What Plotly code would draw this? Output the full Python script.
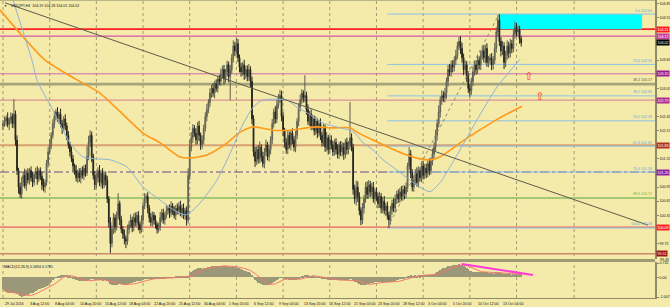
import numpy as np
import pandas as pd
import plotly.graph_objects as go

# ---------------- data (USDJPY H4) ----------------
first_open = 102.25
close = [
 102.30,
 102.35, 102.42, 102.28, 102.38, 102.45, 102.30,
 102.50, 101.95, 101.30, 100.95, 100.80, 101.05,
 101.20, 100.98, 101.25, 101.10, 101.30, 101.15,
 101.05, 101.22, 101.28, 101.12, 101.30, 101.18,
 101.00, 100.95, 101.05, 101.45, 101.70, 101.85,
 102.05, 102.30, 102.45, 102.55, 102.40, 102.50,
 102.30, 102.20, 102.40, 102.25, 102.05, 101.85,
 101.70, 101.55, 101.40, 101.30, 101.15, 101.25,
 101.15, 101.30, 101.20, 101.35, 101.25, 101.60,
 101.90, 102.05, 101.60, 101.20, 101.00, 101.15,
 101.30, 101.05, 101.25, 101.00, 101.20, 101.10,
 100.70, 100.20, 99.75, 100.05, 100.30, 100.10,
 100.35, 100.60, 100.25, 100.05, 99.95, 99.85,
 99.80, 100.05, 100.15, 100.25, 100.10, 100.30,
 100.20, 100.35, 100.15, 100.05, 100.25, 100.55,
 100.70, 100.75, 100.50, 100.30, 100.20, 100.35,
 100.25, 100.15, 100.05, 100.10, 100.30, 100.40,
 100.25, 100.35, 100.45, 100.50, 100.40, 100.55,
 100.45, 100.35, 100.50, 100.45, 100.55, 100.40,
 100.50, 100.35, 100.45, 100.25, 101.20, 101.80,
 102.00, 102.20, 102.10, 101.95, 102.25, 102.05,
 101.85, 101.95, 102.20, 102.45, 102.60, 102.75,
 102.95, 103.05, 102.95, 103.15, 103.05, 103.25,
 103.20, 103.35, 103.45, 103.25, 103.40, 103.55,
 103.30, 103.45, 103.70, 103.95, 103.85, 104.00,
 103.70, 103.50, 103.40, 103.55, 103.35, 103.45,
 103.30, 103.45, 103.20, 102.40, 101.70, 101.50,
 101.75, 101.55, 101.80, 101.60, 101.45, 101.70,
 101.85, 101.60, 101.75, 101.95, 102.30, 102.55,
 102.40, 102.70, 102.85, 102.90, 102.45, 102.15,
 101.90, 101.75, 102.05, 101.85, 102.10, 101.95,
 101.80, 102.05, 102.35, 102.65, 102.80, 102.95,
 102.85, 102.90, 102.60, 102.35, 102.50, 102.25,
 102.40, 102.15, 102.35, 102.10, 102.30, 102.05,
 101.90, 102.20, 101.80, 102.00, 101.75, 101.95,
 101.85, 101.70, 101.90, 101.75, 101.65, 101.85,
 101.70, 101.80, 101.65, 101.90, 101.75, 101.85,
 102.00, 101.80, 100.90, 100.70, 100.95, 100.75,
 100.45, 100.25, 100.50, 100.70, 100.95, 100.80,
 101.00, 100.85, 100.95, 100.70, 100.85, 100.75,
 100.60, 100.75, 100.50, 100.65, 100.45, 100.55,
 100.35, 100.25, 100.45, 100.60, 100.50, 100.70,
 100.80, 100.70, 100.85, 100.75, 100.90, 100.80,
 100.95, 101.40, 101.65, 101.25, 100.95, 101.10,
 101.25, 101.05, 101.30, 101.15, 101.40, 101.20,
 101.35, 101.25, 101.45, 101.30, 101.50, 101.65,
 101.80, 102.05, 102.30, 102.55, 102.80, 102.90,
 102.85, 102.95, 103.20, 103.45, 103.40, 103.55,
 103.50, 103.65, 103.75, 103.95, 104.05, 103.90,
 103.70, 103.45, 103.55, 103.30, 103.05, 103.00,
 103.20, 103.40, 103.55, 103.45, 103.65, 103.55,
 103.75, 103.85, 103.70, 103.90, 103.60, 103.65,
 103.70, 103.55, 103.65, 103.90, 104.25, 104.50,
 104.05, 103.85, 103.95, 103.60, 103.75, 103.95,
 103.80, 104.00, 103.90, 104.20, 104.35, 104.25,
 104.30, 104.10, 104.02,
]
# upper / lower wick lengths beyond the body, in hundredths of a yen
up_wick = [
 8,
 10, 6, 12, 5, 9, 7,   32, 8, 10, 6, 9, 12,   7, 14, 6, 10, 5, 9,
 12, 6, 8, 11, 5, 7,   9, 13, 6, 8, 10, 12,   7, 9, 11, 6, 10, 5,
 12, 8, 6, 10, 7, 9,   6, 11, 8, 5, 12, 7,   10, 6, 9, 7, 8, 22,
 14, 11, 8, 6, 9, 10,   7, 12, 6, 10, 5, 8,   9, 6, 11, 8, 10, 7,
 8, 22, 6, 9, 7, 10,   6, 10, 8, 12, 7, 9,   11, 7, 9, 6, 10, 8,
 12, 6, 9, 7, 10, 8,   7, 10, 6, 9, 12, 8,   9, 7, 11, 6, 8, 10,
 6, 9, 7, 10, 8, 11,   8, 10, 6, 9, 15, 15,   12, 9, 7, 10, 8, 11,
 6, 10, 8, 9, 12, 7,   10, 8, 11, 6, 9, 7,   9, 12, 8, 10, 6, 9,
 7, 10, 8, 12, 9, 12,   10, 7, 9, 6, 11, 8,   9, 12, 7, 10, 8, 11,
 7, 9, 12, 6, 10, 8,   11, 6, 9, 8, 10, 7,   12, 11, 8, 12, 10, 9,
 6, 9, 11, 8, 7, 10,   8, 10, 7, 9, 12, 8,   6, 43, 8, 11, 7, 10,
 9, 7, 10, 6, 8, 11,   7, 10, 8, 12, 6, 9,   10, 8, 7, 9, 11, 6,
 8, 11, 9, 7, 10, 8,   76, 9, 7, 10, 14, 12,   9, 7, 11, 8, 10, 12,
 10, 8, 9, 11, 7, 9,   8, 10, 7, 9, 11, 6,   9, 7, 10, 8, 11, 9,
 7, 10, 8, 12, 9, 8,   10, 7, 15, 9, 8, 10,   8, 12, 9, 7, 10, 11,
 9, 10, 7, 11, 8, 12,   10, 12, 9, 14, 8, 11,   9, 11, 8, 10, 12, 9,
 10, 8, 12, 9, 9, 11,   12, 9, 10, 8, 11, 9,   8, 11, 9, 10, 12, 8,
 10, 9, 12, 8, 11, 9,   8, 10, 9, 12, 10, 11,   13, 9, 11, 8, 10, 12,
 9, 10, 8, 11, 12, 9,
 9, 8, 6,
]
dn_wick = [
 9,
 7, 10, 6, 12, 8, 9,   10, 12, 9, 14, 8, 10,   9, 6, 11, 7, 10, 8,
 10, 7, 9, 12, 6, 8,   11, 9, 12, 7, 8, 6,   9, 7, 10, 8, 6, 11,
 8, 12, 7, 9, 10, 8,   10, 7, 12, 9, 8, 11,   9, 12, 7, 10, 8, 6,
 8, 10, 12, 9, 11, 7,   10, 8, 11, 9, 7, 12,   9, 11, 20, 8, 10, 12,
 7, 9, 11, 8, 10, 12,   15, 8, 10, 7, 11, 9,   8, 10, 12, 9, 7, 8,
 7, 9, 11, 10, 8, 9,   10, 8, 9, 7, 8, 10,   8, 10, 7, 9, 11, 8,
 9, 7, 10, 8, 9, 7,   10, 8, 9, 12, 7, 10,   9, 11, 8, 10, 9, 12,
 11, 8, 9, 7, 10, 8,   9, 10, 8, 11, 7, 9,   8, 10, 9, 12, 8, 10,
 12, 50, 9, 10, 11, 8,   9, 11, 10, 8, 12, 10,   10, 9, 12, 11, 10, 12,
 8, 10, 9, 11, 8, 10,   9, 8, 11, 10, 9, 8,   10, 9, 8, 11, 10, 12,
 11, 9, 10, 8, 12, 9,   9, 11, 8, 10, 9, 8,   10, 9, 11, 8, 10, 9,
 8, 10, 9, 11, 8, 10,   9, 8, 10, 9, 11, 8,   10, 9, 8, 11, 9, 10,
 9, 10, 12, 9, 11, 10,   10, 9, 11, 10, 14, 12,   10, 11, 9, 11, 8, 10,
 9, 11, 10, 8, 12, 9,   10, 9, 11, 10, 8, 12,   9, 17, 10, 9, 8, 10,
 11, 9, 8, 10, 9, 11,   9, 10, 8, 11, 9, 10,   10, 9, 11, 8, 10, 9,
 8, 11, 9, 10, 8, 9,   10, 9, 11, 8, 12, 10,   9, 10, 12, 11, 9, 10,
 11, 9, 10, 8, 9, 12,   10, 12, 9, 11, 10, 13,   9, 10, 8, 11, 9, 10,
 11, 9, 10, 12, 9, 10,   9, 11, 10, 8, 9, 10,   10, 12, 9, 14, 10, 9,
 11, 9, 10, 8, 9, 10,
 9, 10, 8,
]

# moving averages (bar index, price)
ma_fast_bar = [0, 6.4, 18.6, 21.8, 32, 43, 51.4, 60.4, 68.8, 79.7, 90, 101, 111.8, 118,
               126.6, 137.5, 147.8, 152.3, 160.7, 167, 182.5, 189, 195.4, 205.7, 216.6,
               223, 226.2, 231.4, 237.8, 244.2, 253.2, 261.6, 268, 274.4, 280.8, 287.3,
               293.7, 304.6, 317.5, 332.3]
ma_fast_val = [105.60, 104.93, 103.65, 103.23, 102.59, 101.89, 101.59, 101.55, 101.53,
               101.38, 100.95, 100.67, 100.42, 100.36, 100.61, 101.10, 101.80, 102.16,
               102.65, 102.80, 102.80, 102.65, 102.53, 102.31, 102.21, 102.16, 102.10,
               101.89, 101.74, 101.53, 101.31, 101.10, 100.95, 100.85, 101.04, 101.38,
               101.74, 102.38, 103.08, 103.67]
ma_slow_bar = [-2, 27, 47.6, 62.3, 90, 101, 113.8, 120, 131, 144, 152.3, 160.7, 173.5,
               184.4, 195.4, 201.8, 212, 223, 227.5, 237.8, 248.7, 259.6, 268, 274.4,
               280.8, 289.2, 293.7, 318.1, 333.5]
ma_slow_val = [104.72, 103.65, 103.23, 102.95, 102.10, 101.89, 101.59, 101.57, 101.63,
               101.89, 102.12, 102.23, 102.16, 102.16, 102.21, 102.23, 102.21, 102.21,
               102.12, 101.95, 101.78, 101.63, 101.55, 101.53, 101.59, 101.78, 101.89,
               102.40, 102.67]

# MACD(12,26,9): EMA levels carried in from before the first visible bar (estimated)
ema12_seed = 104.3
ema26_seed = 104.8

# time axis labels (every 16 H4 bars)
tick_bars = [0, 16, 32, 48, 64, 80, 96, 112, 128, 144, 160, 176, 192, 208, 224, 240,
             256, 272, 288, 304, 320]
tick_text = ["29 Jul 2016", "3 Aug 12:00", "8 Aug 04:00", "10 Aug 20:00", "15 Aug 12:00",
             "18 Aug 04:00", "22 Aug 20:00", "25 Aug 12:00", "30 Aug 04:00", "1 Sep 20:00",
             "6 Sep 12:00", "9 Sep 04:00", "13 Sep 20:00", "16 Sep 12:00", "21 Sep 04:00",
             "23 Sep 20:00", "28 Sep 12:00", "3 Oct 04:00", "5 Oct 20:00", "10 Oct 12:00",
             "13 Oct 04:00"]
grid_bars = [0, 30, 60, 90, 120, 150, 180, 210, 240, 270, 300, 330, 367]

# price scale labels (those not hidden behind price tags)
price_ticks = [104.85, 104.55, 103.65, 103.05, 102.45, 102.15, 101.55, 100.95, 100.65,
               100.35, 99.75]
price_tick_low = 99.45

# horizontal levels
level_prices = [104.31, 104.16, 103.36, 103.14, 102.80, 101.84, 101.27, 100.72, 100.10, 99.53]
level_tags = ["104.31", "104.17", "103.35", "", "102.79", "101.83", "101.26", "", "100.09", "99.51"]
# fibonacci retracement (swing low bar 247 -> swing high bar 318.8)
fib_bar0, fib_bar1 = 247, 318.8
fib_low, fib_high = 100.08, 104.63
fib_levels = [104.63, 103.56, 102.89, 102.36, 101.82, 101.27, 100.08]
fib_text = ["0.0 104.63", "23.6 103.56", "38.2 102.89", "50.0 102.36", "61.8 101.82",
            "76.4 101.26", "100.0 100.08"]
extra_text = [("38.2 103.17", 103.14, "#55553a"), ("88.6 100.71", 100.72, "#7fae3c")]
# resistance box and trend line
box_bars = [318.8, 410.7]
box_prices = [104.31, 104.63]
trend_bars = [1.3, 414.5]
trend_prices = [104.87, 100.14]
arrow_bars = [338, 345]
arrow_prices = [103.29, 102.87]
macd_trend_bars = [294.8, 340.6]
macd_trend_vals = [0.68, 0.12]
current_price = 104.02
title_text = "USDJPY,H4  104.19 104.28 104.01 104.02"
macd_text = "MACD(12,26,9) 0.1694 0.1791"

# ---------------- derived ----------------
n = min(len(close), len(up_wick), len(dn_wick))
close = close[:n]
bars = list(range(n))
opens = [first_open] + close[:-1]
highs = [max(o, c) + u / 100 for o, c, u in zip(opens, close, up_wick)]
lows = [min(o, c) - d / 100 for o, c, d in zip(opens, close, dn_wick)]

e12, e26 = ema12_seed, ema26_seed
macd = []
for v in close:
    e12 += (v - e12) * 2 / 13
    e26 += (v - e26) * 2 / 27
    macd.append(e12 - e26)
signal = pd.Series(macd).rolling(9, min_periods=1).mean().tolist()

# ---------------- figure ----------------
BG = "#F4EAAA"
AX = "#8e8c66"
FONT = "Liberation Sans"
FS = 3.6
XR = [-1.93, 419.0]
main_dom = [0.1309, 1.0]
macd_dom = [0.0, 0.1208]

fig = go.Figure()
fig.add_trace(go.Candlestick(
    x=bars, open=opens, high=highs, low=lows, close=close,
    increasing=dict(line=dict(color="#5e5e50", width=1), fillcolor="#a8a68a"),
    decreasing=dict(line=dict(color="#262620", width=1), fillcolor="#000000"),
    whiskerwidth=0, showlegend=False, hoverinfo="skip", xaxis="x", yaxis="y"))
fig.add_trace(go.Scatter(x=ma_slow_bar, y=ma_slow_val, mode="lines",
                         line=dict(color="#ff9a1a", width=1.6, shape="spline", smoothing=0.6),
                         showlegend=False, hoverinfo="skip", xaxis="x", yaxis="y"))
fig.add_trace(go.Scatter(x=ma_fast_bar, y=ma_fast_val, mode="lines",
                         line=dict(color="#8fb3d6", width=1, shape="spline", smoothing=0.6),
                         showlegend=False, hoverinfo="skip", xaxis="x", yaxis="y"))
fig.add_trace(go.Scatter(x=arrow_bars, y=arrow_prices, mode="text", text=["⇧"] * len(arrow_bars),
                         textposition="middle center",
                         textfont=dict(size=11, color="#ff3030", family="DejaVu Sans"),
                         showlegend=False, hoverinfo="skip", xaxis="x", yaxis="y"))
fig.add_trace(go.Bar(x=bars, y=macd, marker=dict(color="#9a9878", line=dict(width=0)),
                     width=0.6, showlegend=False, hoverinfo="skip", xaxis="x2", yaxis="y2"))
fig.add_trace(go.Scatter(x=bars, y=signal, mode="lines", line=dict(color="#f27a6a", width=1),
                         showlegend=False, hoverinfo="skip", xaxis="x2", yaxis="y2"))

shapes = []
for gb in grid_bars:
    shapes.append(dict(type="line", xref="x", yref="paper", x0=gb, x1=gb, y0=0, y1=1,
                       line=dict(color="#8a8866", width=0.8, dash="dot"), layer="below"))
shapes.append(dict(type="rect", xref="x", yref="y", x0=box_bars[0], x1=box_bars[1],
                   y0=box_prices[0], y1=box_prices[1], fillcolor="#00ffff",
                   line=dict(width=0), layer="below"))
level_style = [("#ff2020", 1.6, "solid"), ("#d455a8", 1.3, "solid"), ("#cc6aa8", 1, "solid"),
               ("#a8a47a", 2.6, "solid"), ("#d77c92", 1, "solid"), ("#d9a172", 2, "solid"),
               ("#6a4a8a", 1, "dashdot"), ("#a6c872", 2, "solid"), ("#e66060", 1.2, "solid"),
               ("#c98a6c", 1.5, "solid")]
for p, (col, w, d) in zip(level_prices, level_style):
    shapes.append(dict(type="line", xref="paper", yref="y", x0=0, x1=1, y0=p, y1=p,
                       line=dict(color=col, width=w, dash=d), layer="below"))
for p in fib_levels:
    shapes.append(dict(type="line", xref="x", yref="y", x0=fib_bar0, x1=XR[1], y0=p, y1=p,
                       line=dict(color="#8cc2e4", width=1), layer="below"))
shapes.append(dict(type="line", xref="x", yref="y", x0=fib_bar0, x1=fib_bar1,
                   y0=fib_low, y1=fib_high, line=dict(color="#8a8a78", width=1, dash="dot")))
shapes.append(dict(type="line", xref="x", yref="y", x0=trend_bars[0], x1=trend_bars[1],
                   y0=trend_prices[0], y1=trend_prices[1], line=dict(color="#5c5c4c", width=1)))
shapes.append(dict(type="line", xref="x2", yref="y2", x0=macd_trend_bars[0],
                   x1=macd_trend_bars[1], y0=macd_trend_vals[0], y1=macd_trend_vals[1],
                   line=dict(color="#ff3ad8", width=2)))
shapes.append(dict(type="rect", xref="paper", yref="paper", x0=0, x1=1,
                   y0=macd_dom[1], y1=main_dom[0], fillcolor="#9c9a72", line=dict(width=0)))
shapes.append(dict(type="line", xref="paper", yref="paper", x0=0, x1=1, y0=1, y1=1,
                   line=dict(color="#a6a47c", width=1.5)))

ann = []
ann.append(dict(text="▼", xref="paper", yref="paper", x=0, y=1, xshift=2, yshift=-2,
                xanchor="left", yanchor="top", showarrow=False,
                font=dict(size=3, color="#000", family=FONT)))
ann.append(dict(text=title_text, xref="paper", yref="paper", x=0, y=1, xshift=9, yshift=-1.5,
                xanchor="left", yanchor="top", showarrow=False,
                font=dict(size=FS, color="#111", family=FONT)))
ann.append(dict(text=macd_text, xref="paper", yref="paper", x=0, y=macd_dom[1], xshift=2,
                yshift=-1, xanchor="left", yanchor="top", showarrow=False,
                font=dict(size=FS, color="#111", family=FONT)))
for tb, tt in zip(tick_bars, tick_text):
    ann.append(dict(text=tt, xref="x2", yref="paper", x=tb, y=0, yshift=-1.5,
                    xanchor="left", yanchor="top", showarrow=False,
                    font=dict(size=FS, color="#111", family=FONT)))
for t, p in zip(fib_text, fib_levels):
    ann.append(dict(text=t, xref="paper", yref="y", x=1, y=p, xshift=-1, yshift=-0.5,
                    xanchor="right", yanchor="bottom", showarrow=False,
                    font=dict(size=FS, color="#6ea6d6", family=FONT)))
for t, p, col in extra_text:
    ann.append(dict(text=t, xref="paper", yref="y", x=1, y=p, xshift=-1, yshift=0,
                    xanchor="right", yanchor="bottom", showarrow=False,
                    font=dict(size=FS, color=col, family=FONT)))
tag_colors = ["#ff1e1e", "#c83c9c", "#a21a92", "", "#b02a90", "#b23322", "#8a22a2", "",
              "#ff2424", "#a01414"]
for t, p, col in zip(level_tags, level_prices, tag_colors):
    if t and col:
        ann.append(dict(text=t, xref="paper", yref="y", x=1, y=p, xshift=1,
                        xanchor="left", yanchor="middle", showarrow=False, bgcolor=col,
                        borderpad=0.6, font=dict(size=FS, color="#ffffff", family=FONT)))
ann.append(dict(text=f"{current_price:.2f}", xref="paper", yref="y", x=1, y=current_price,
                xshift=1, xanchor="left", yanchor="middle", showarrow=False, bgcolor="#000000",
                borderpad=0.6, font=dict(size=FS, color="#ffffff", family=FONT)))
ann.append(dict(text=f"{price_tick_low:.2f}", xref="paper", yref="y", x=1, y=price_tick_low,
                xshift=3, yshift=-2.5, xanchor="left", yanchor="middle", showarrow=False,
                font=dict(size=FS, color="#111", family=FONT)))

fig.update_layout(
    width=670, height=307, template="none",
    margin=dict(l=0, r=15, t=0, b=9),
    paper_bgcolor=BG, plot_bgcolor=BG, showlegend=False, bargap=0,
    font=dict(family=FONT, size=FS, color="#111"),
    xaxis=dict(domain=[0, 1], range=XR, anchor="y", showgrid=False, zeroline=False,
               showticklabels=False, ticks="", showline=False, rangeslider=dict(visible=False),
               fixedrange=True),
    xaxis2=dict(domain=[0, 1], range=XR, anchor="y2", matches="x", showgrid=False,
                zeroline=False, showticklabels=False, ticks="", showline=True,
                linecolor=AX, linewidth=1),
    yaxis=dict(domain=main_dom, range=[99.42, 104.93], side="right", anchor="x",
               tickvals=price_ticks, ticktext=[f"{v:.2f}" for v in price_ticks],
               tickfont=dict(size=FS, color="#111", family=FONT), ticks="outside",
               ticklen=2, tickcolor=AX, showgrid=False, zeroline=False, showline=True,
               linecolor=AX, linewidth=1.5, automargin=False),
    yaxis2=dict(domain=macd_dom, range=[-1.058, 0.783], side="right", anchor="x2",
                tickvals=[0.732, 0.0, -1.007], ticktext=["0.732", "0.00", "-1.007"],
                tickfont=dict(size=FS, color="#111", family=FONT), ticks="outside",
                ticklen=2, tickcolor=AX, showgrid=False, zeroline=False, showline=True,
                linecolor=AX, linewidth=1.5, automargin=False),
    shapes=shapes, annotations=ann,
)

fig.write_html("out.html")
